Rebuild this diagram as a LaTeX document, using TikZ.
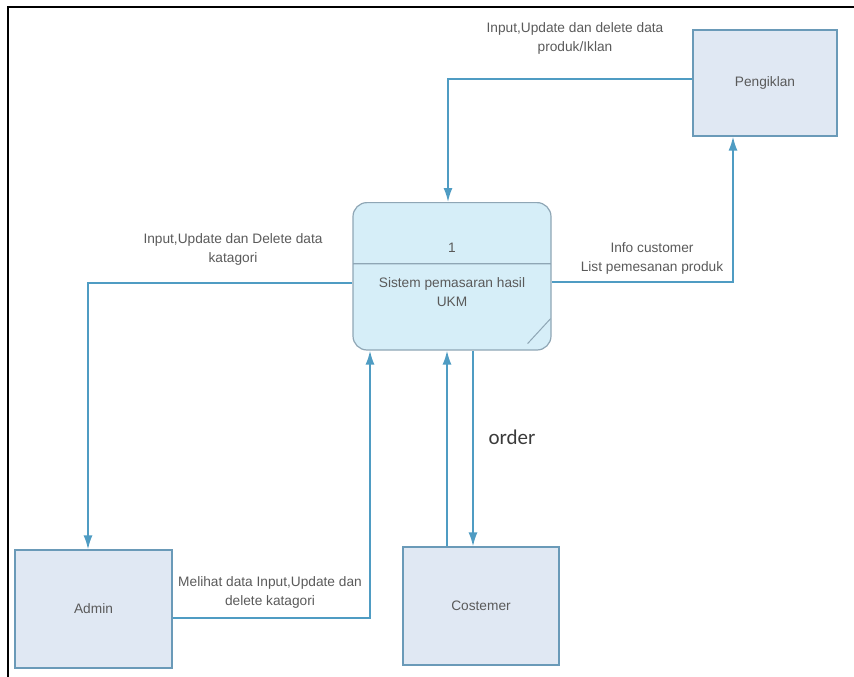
\documentclass[tikz,border=0pt]{standalone}
\usepackage{fontspec}
\setmainfont{Liberation Sans}
\newfontfamily\orderfont{Carlito}
\usepackage{tikz}
\usetikzlibrary{arrows.meta}
\usetikzlibrary{shapes.multipart}

\definecolor{flowblue}{HTML}{4F9CC3}
\definecolor{entityfill}{HTML}{E0E8F3}
\definecolor{entityline}{HTML}{6A9AB8}
\definecolor{procfill}{HTML}{D6EEF8}
\definecolor{procline}{HTML}{8FA6B5}
\definecolor{labelgray}{HTML}{5A5A5A}
\definecolor{ordergray}{HTML}{3A3A3A}

\begin{document}
\begin{tikzpicture}[x=1pt,y=-1pt,every text node part/.style={align=center},font=\fontsize{13.7}{19}\selectfont,text=labelgray,
  entity/.style={draw=entityline,fill=entityfill,line width=1.2pt,minimum width=156pt,minimum height=118pt},
  process/.style={rectangle split,rectangle split parts=2,align=center,draw=procline,fill=procfill,line width=1.2pt,rounded corners=14pt,minimum width=198pt,inner ysep=0pt},
  flow/.style={-{Latex[length=14pt,width=9pt]},draw=flowblue,line width=1.8pt}]
  \useasboundingbox (0,0) rectangle (854,677);
  \draw[line width=2pt] (8,677) -- (8,7) -- (854,7);
  \node[process,anchor=north] (proc) at (452,202) {\rule[-11pt]{0pt}{60pt}1 \nodepart{two} \rule{0pt}{23pt}Sistem pemasaran hasil\\UKM\rule[-43pt]{0pt}{43pt}};
  \draw[procline,line width=1pt] ([xshift=-24pt,yshift=7pt]proc.south east) -- ([xshift=-1pt,yshift=32pt]proc.south east);
  \node[entity,minimum width=144pt,minimum height=106pt] (pengiklan) at (765,83) {Pengiklan};
  \node[entity,minimum width=157pt] (admin) at (93.5,609) {Admin};
  \node[entity] (costemer) at (481,606) {Costemer};
  \draw[flow] ([yshift=4pt]pengiklan.west) -| ([xshift=-4pt]proc.north);
  \draw[flow] ([yshift=-6pt]proc.east) -| ([xshift=-32pt]pengiklan.south);
  \draw[flow] ([yshift=-7pt]proc.west) -| ([xshift=-5.5pt]admin.north);
  \draw[flow] ([yshift=-9pt]admin.east) -| ([xshift=-82pt]proc.south);
  \draw[flow] ([xshift=-34pt]costemer.north) -- ([xshift=-34pt]costemer.north |- proc.south);
  \draw[flow] ([xshift=-8pt]costemer.north |- proc.south) -- ([xshift=-8pt]costemer.north);
  \node (lblpengiklan) at (575,38) {Input,Update dan delete data\\produk/Iklan};
  \node (lblkatagori) at (233,249) {Input,Update dan Delete data\\katagori};
  \node (lblinfo) at (652,258) {Info customer\\List pemesanan produk};
  \node (lblmelihat) at (270,592) {Melihat data Input,Update dan\\delete katagori};
  \node[font=\orderfont\fontsize{21}{24}\selectfont,text=ordergray] (lblorder) at (512,437) {order};
\end{tikzpicture}
\end{document}
